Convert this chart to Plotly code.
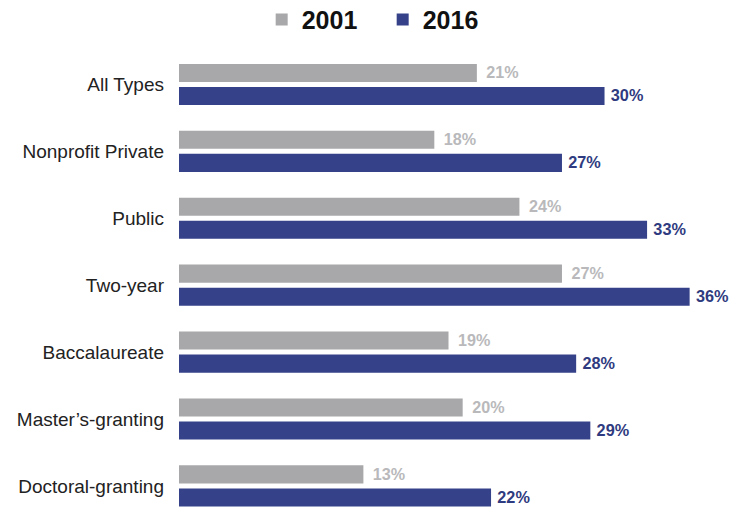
import plotly.graph_objects as go

categories = ["All Types", "Nonprofit Private", "Public", "Two-year",
              "Baccalaureate", "Master\u2019s-granting", "Doctoral-granting"]
values_2001 = [21, 18, 24, 27, 19, 20, 13]
values_2016 = [30, 27, 33, 36, 28, 29, 22]

GRAY = "#a8a7aa"
BLUE = "#35428a"

fig = go.Figure()
fig.add_trace(go.Bar(
    y=categories, x=values_2001, orientation="h", name="2001",
    marker=dict(color=GRAY, line=dict(width=0)),
    text=[f"\u2009\u2009{v}%" for v in values_2001], textposition="outside",
    textfont=dict(family="Liberation Sans", size=17, color="#b9b9bb", weight=600),
    cliponaxis=False,
))
fig.add_trace(go.Bar(
    y=categories, x=values_2016, orientation="h", name="2016",
    marker=dict(color=BLUE, line=dict(width=0)),
    text=[f"\u2009{v}%" for v in values_2016], textposition="outside",
    textfont=dict(family="Liberation Sans", size=18, color="#2f3b80", weight="bold"),
    cliponaxis=False,
))

fig.update_layout(
    width=733, height=508,
    margin=dict(l=179, r=15, t=51, b=0),
    paper_bgcolor="white", plot_bgcolor="white",
    barmode="group", bargap=0.31, bargroupgap=0.217,
    showlegend=True,
    legend=dict(
        orientation="h", xref="container", yref="container",
        x=0.357, xanchor="left", y=0.961, yanchor="middle",
        font=dict(family="Liberation Sans", size=25, color="#111111", weight="bold"),
        itemwidth=30, entrywidth=76, entrywidthmode="pixels",
        traceorder="normal",
    ),
    xaxis=dict(range=[0, 38], showgrid=False, zeroline=False,
               showticklabels=False, showline=False, fixedrange=True),
    yaxis=dict(categoryorder="array", categoryarray=categories,
               range=[6.33, -0.5], showgrid=False, zeroline=False,
               showline=False, ticks="", ticklabelstandoff=14,
               tickfont=dict(family="Liberation Sans", size=19, color="#222222")),
)

fig.write_html("out.html")
